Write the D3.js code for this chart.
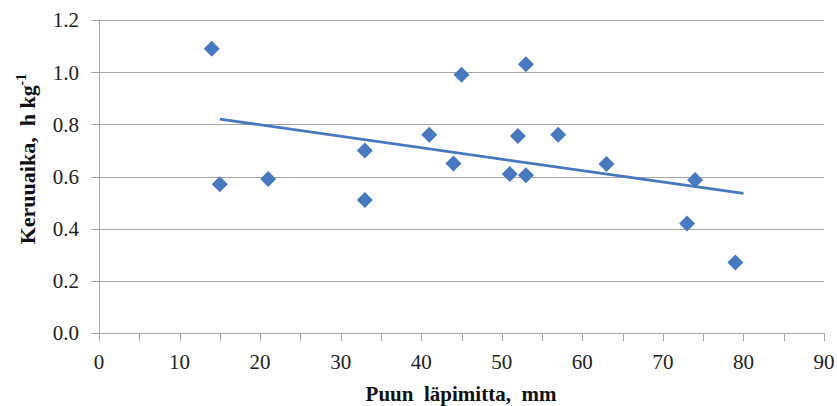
<!DOCTYPE html>
<html>
<head>
<meta charset="utf-8">
<script src="https://cdn.jsdelivr.net/npm/d3@7"></script>
<style>
  html, body { margin: 0; padding: 0; background: #fff; }
  svg { display: block; }
  text { font-family: "Liberation Serif", "Times New Roman", "Liberation Sans", Arial, sans-serif; }
</style>
</head>
<body>
<svg id="chart" width="837" height="406"></svg>
<script>
// Puun läpimitta (mm) vs keruuaika (h/kg)
const diameters = [14, 15, 21, 33, 33, 41, 44, 45, 51, 52, 53, 53, 57, 63, 73, 74, 79];
const times = [1.09, 0.57, 0.59, 0.70, 0.51, 0.76, 0.65, 0.99, 0.61, 0.755, 1.03, 0.605, 0.76, 0.648, 0.42, 0.587, 0.27];
const trendX = [15, 80];
const trendY = [0.82, 0.535];
const xTicks = [0, 10, 20, 30, 40, 50, 60, 70, 80, 90];
const xMinorTicks = d3.range(0, 91, 5);
const yTicks = [0, 0.2, 0.4, 0.6, 0.8, 1.0, 1.2];

const width = 837, height = 406;
const margin = { top: 20, right: 13, bottom: 73, left: 99 };

const svg = d3.select("#chart");

const x = d3.scaleLinear().domain([0, 90]).range([margin.left, width - margin.right]);
const y = d3.scaleLinear().domain([0, 1.2]).range([height - margin.bottom, margin.top]);

const blue = "#4878bf";
const gridColor = "#a6a6a6";

// gridlines (with outside ticks on the left)
svg.append("g")
  .selectAll("line")
  .data(yTicks)
  .join("line")
  .attr("x1", margin.left - 8)
  .attr("x2", x(90))
  .attr("y1", d => Math.round(y(d)) + 0.5)
  .attr("y2", d => Math.round(y(d)) + 0.5)
  .attr("stroke", gridColor)
  .attr("stroke-width", 1);

// y axis line
svg.append("line")
  .attr("x1", margin.left + 0.5).attr("x2", margin.left + 0.5)
  .attr("y1", y(1.2)).attr("y2", y(0))
  .attr("stroke", gridColor);

// x axis ticks every 5
svg.append("g")
  .selectAll("line")
  .data(xMinorTicks)
  .join("line")
  .attr("x1", d => Math.round(x(d)) + 0.5)
  .attr("x2", d => Math.round(x(d)) + 0.5)
  .attr("y1", y(0))
  .attr("y2", y(0) + 8)
  .attr("stroke", gridColor);

// y tick labels
svg.append("g")
  .selectAll("text")
  .data(yTicks)
  .join("text")
  .attr("x", 79)
  .attr("y", d => y(d))
  .attr("dy", "0.35em")
  .attr("text-anchor", "end")
  .attr("font-size", 21)
  .attr("fill", "#222")
  .text(d3.format(".1f"));

// x tick labels
svg.append("g")
  .selectAll("text")
  .data(xTicks)
  .join("text")
  .attr("x", d => x(d))
  .attr("y", 369)
  .attr("text-anchor", "middle")
  .attr("font-size", 21)
  .attr("fill", "#222")
  .text(d => d);

// axis titles
svg.append("text")
  .attr("x", 461)
  .attr("y", 401)
  .attr("text-anchor", "middle")
  .attr("font-size", 21)
  .attr("font-weight", "bold")
  .attr("fill", "#111")
  .attr("xml:space", "preserve")
  .text("Puun  läpimitta,  mm");

const yTitle = svg.append("text")
  .attr("transform", "translate(35,159) rotate(-90)")
  .attr("text-anchor", "middle")
  .attr("font-size", 22)
  .attr("font-weight", "bold")
  .attr("fill", "#111")
  .attr("xml:space", "preserve");
yTitle.append("tspan").text("Keruuaika,  h kg");
yTitle.append("tspan").attr("font-size", 14).attr("dy", -9).text("-1");

// trend line
svg.append("line")
  .attr("x1", x(trendX[0])).attr("y1", y(trendY[0]))
  .attr("x2", x(trendX[1])).attr("y2", y(trendY[1]))
  .attr("stroke", blue)
  .attr("stroke-width", 2.75);

// diamonds
const diamond = d3.symbol().type(d3.symbolSquare).size(128);
svg.append("g")
  .selectAll("path")
  .data(diameters.map((d, i) => [d, times[i]]))
  .join("path")
  .attr("d", diamond)
  .attr("transform", d => `translate(${x(d[0])},${y(d[1])}) rotate(45)`)
  .attr("fill", blue);
</script>
</body>
</html>
